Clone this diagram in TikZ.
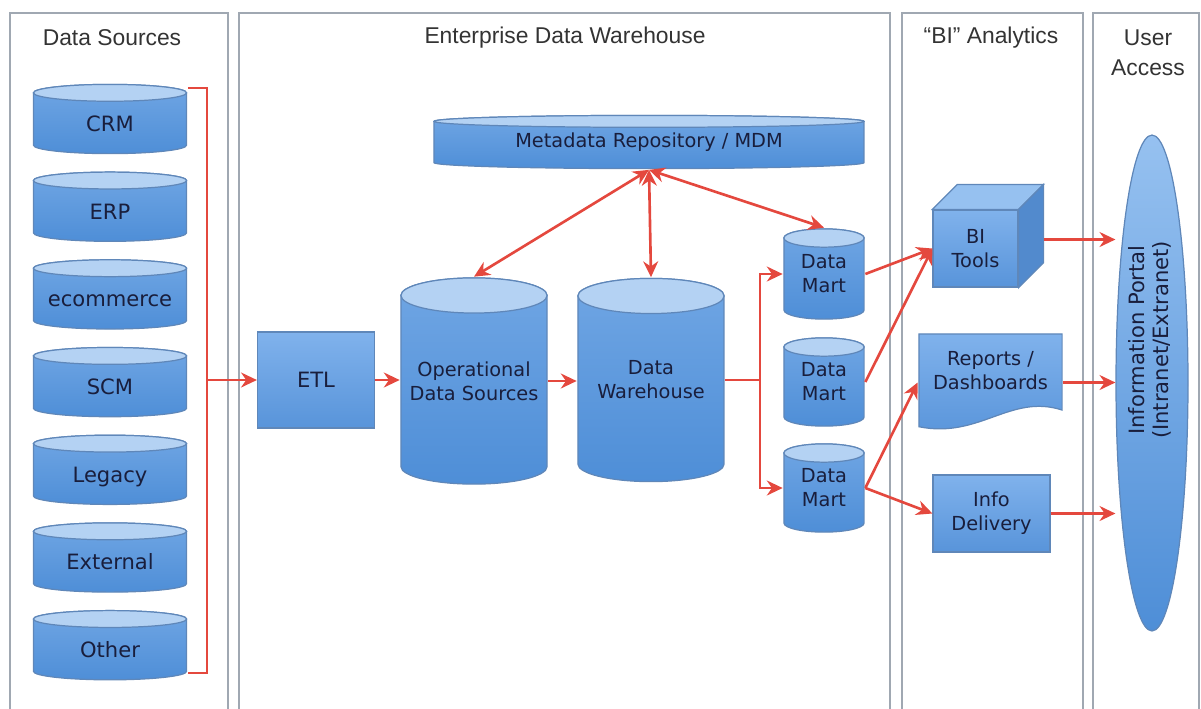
\documentclass[tikz,border=0pt]{standalone}
\usepackage{fontspec}
\setmainfont{DejaVu Sans}
\newfontfamily\headfont{Liberation Sans}
\usetikzlibrary{arrows.meta, shapes.geometric, calc}
\tikzset{>={Stealth[length=9pt,width=8.5pt]}}
\definecolor{dwred}{RGB}{228, 72, 62}
\definecolor{lanegray}{RGB}{160, 168, 178}
\definecolor{cyltop}{RGB}{180, 210, 243}
\definecolor{cylA}{RGB}{112, 166, 228}
\definecolor{cylB}{RGB}{150, 193, 240}
\definecolor{cylC}{RGB}{78, 142, 215}
\definecolor{cyledge}{RGB}{95, 135, 185}
\definecolor{boxA}{RGB}{128, 178, 236}
\definecolor{boxC}{RGB}{88, 148, 218}
\definecolor{cubetop}{RGB}{150, 193, 240}
\definecolor{cubeside}{RGB}{82, 138, 205}
\definecolor{dwtext}{RGB}{25, 30, 60}

\begin{document}
\begin{tikzpicture}[
    x = 0.02cm, y = -0.02cm,
    lane/.style = {draw = lanegray, line width = 1.2pt},
    lanehead/.style = {font = \headfont\fontsize{13}{17}\selectfont, text = black!80, align = center},
    flow/.style = {draw = dwred, line width = 1.5pt},
    cyl/.style = {inner sep = 0pt, align = center, text = dwtext,
        font = \fontsize{11}{13.6}\selectfont,
        path picture = {
            \shadedraw[top color = cylA, middle color = cylB, bottom color = cylC, draw = cyledge, line width = 0.7pt]
                let \p1 = (path picture bounding box.south west), \p2 = (path picture bounding box.north east) in
                ({\x1+0.5pt}, {\y2-#1-0.5pt}) -- ({\x1+0.5pt}, {\y1+#1+0.5pt})
                arc[start angle = 180, end angle = 360, x radius = {(\x2-\x1)/2-0.5pt}, y radius = #1]
                -- ({\x2-0.5pt}, {\y2-#1-0.5pt})
                arc[start angle = 0, end angle = 180, x radius = {(\x2-\x1)/2-0.5pt}, y radius = #1]
                -- cycle;
            \filldraw[fill = cyltop, draw = cyledge, line width = 0.7pt]
                let \p1 = (path picture bounding box.south west), \p2 = (path picture bounding box.north east) in
                ({(\x1+\x2)/2}, {\y2-#1-0.5pt}) ellipse [x radius = {(\x2-\x1)/2-0.5pt}, y radius = #1];
        }},
    cyl/.default = 5pt,
    box/.style = {draw = cyledge, line width = 0.7pt, top color = boxA, bottom color = boxC,
        inner sep = 0pt, align = center, text = dwtext, font = \fontsize{11}{13.6}\selectfont},
    docbox/.style = {inner sep = 0pt, align = center, text = dwtext, font = \fontsize{11}{13.6}\selectfont,
        path picture = {
            \shadedraw[top color = boxA, bottom color = boxC, draw = cyledge, line width = 0.7pt]
                let \p1 = (path picture bounding box.south west), \p2 = (path picture bounding box.north east) in
                ({\x1+0.5pt}, {\y2-0.5pt}) -- ({\x2-0.5pt}, {\y2-0.5pt}) -- ({\x2-0.5pt}, {\y1+12.5pt})
                .. controls ({\x2-30pt}, {\y1+22pt}) and ({\x1+35pt}, {\y1-4pt}) .. ({\x1+0.5pt}, {\y1+3pt})
                -- cycle;
        }},
    portal/.style = {ellipse, draw = cyledge, line width = 0.7pt, top color = cylB, bottom color = cylC,
        minimum width = 1.44cm, minimum height = 9.92cm, inner sep = 0pt},
    portaltext/.style = {rotate = 90, align = center, text = dwtext, font = \fontsize{12}{13.6}\selectfont},
]

\useasboundingbox (0, 0) rectangle (1201, 708);
\clip (0, 0) rectangle (1201, 708);

% lanes
\draw[lane] (10, 13) rectangle (228, 712);
\draw[lane] (239, 13) rectangle (890, 712);
\draw[lane] (902, 13) rectangle (1083, 712);
\draw[lane] (1093, 13) rectangle (1199, 712);

\node[lanehead] (src head) at (112, 38) {Data Sources};
\node[lanehead] (edw head) at (565, 38) {Enterprise Data Warehouse};
\node[lanehead] (bi head) at (991, 38) {“BI” Analytics};
\node[lanehead] (user head) at (1148, 53) {User\\Access};

% sources
\foreach \nm/\txt [count = \i from 0] in {crm/CRM, erp/ERP, ecom/ecommerce, scm/SCM, legacy/Legacy, ext/External, other/Other}
    \node[cyl = 4.8pt, minimum width = 3.1cm, minimum height = 1.42cm, text height = 14pt, text depth = 0pt,
        font = \fontsize{12}{14}\selectfont] (\nm) at (110, {119 + 87.7*\i}) {\txt};

\coordinate (bracket top) at (207, 88);
\coordinate (bracket bot) at (207, 673);
\draw[flow] (bracket top -| crm.east) -- (bracket top) -- (bracket bot) -- (bracket bot -| other.east);

% warehouse
\node[box, minimum width = 2.34cm, minimum height = 1.92cm, font = \fontsize{12}{14}\selectfont] (etl) at (316, 380) {ETL};
\node[cyl = 10pt, minimum width = 2.96cm, minimum height = 4.16cm] (ods) at (474, 381) {Operational\\Data Sources};
\node[cyl = 10pt, minimum width = 2.96cm, minimum height = 4.1cm] (dw) at (651, 380) {Data\\Warehouse};
\node[cyl = 3.4pt, minimum width = 8.64cm, minimum height = 1.1cm] (meta) at (649, 142) {Metadata Repository / MDM};
\node[cyl = 5.2pt, minimum width = 1.64cm, minimum height = 1.84cm] (dm1) at (824, 274) {Data\\Mart};
\node[cyl = 5.2pt, minimum width = 1.64cm, minimum height = 1.8cm] (dm2) at (824, 382) {Data\\Mart};
\node[cyl = 5.2pt, minimum width = 1.64cm, minimum height = 1.8cm] (dm3) at (824, 488) {Data\\Mart};

\draw[flow, ->] (bracket top |- etl) -- (etl);
\draw[flow, ->] (etl.east) -- (etl.east -| ods.west);
\draw[flow, ->] (ods.east) -- (ods.east -| dw.west);
\coordinate (split) at (760, 380);
\draw[flow] (dw.east) -- (split);
\draw[flow, ->] (split) |- (dm1);
\draw[flow, ->] (split) |- (dm3);
\draw[flow, <->] (meta.south) -- (ods.north);
\draw[flow, <->] (meta.south) -- (dw.north);
\draw[flow, <->] (meta.south) -- (dm1.north);

% analytics
\node[box, minimum width = 1.7cm, minimum height = 1.54cm] (bi) at (975.5, 248.5) {BI\\Tools};
\filldraw[fill = cubetop, draw = cyledge, line width = 0.7pt] (bi.north west) -- ++(25, -25) -- ([shift = {(25, -25)}] bi.north east) -- (bi.north east) -- cycle;
\filldraw[fill = cubeside, draw = cyledge, line width = 0.7pt] (bi.north east) -- ++(25, -25) -- ([shift = {(25, -25)}] bi.south east) -- (bi.south east) -- cycle;
\node[docbox, minimum width = 2.9cm, minimum height = 1.98cm, text depth = 14pt] (rep) at (990.5, 382.5) {Reports /\\Dashboards};
\node[box, minimum width = 2.34cm, minimum height = 1.54cm] (info) at (991.5, 513.5) {Info\\Delivery};

\draw[flow, ->] (dm1.east) -- (bi.west);
\draw[flow, ->] (dm2.east) -- (bi.west);
\draw[flow, ->] (dm3.east) -- (rep.west);
\draw[flow, ->] (dm3.east) -- (info.west);

% user access
\node[portal] (portal) at (1152, 383) {};
\node[portaltext] (portal text) at (1150, 340) {Information Portal\\(Intranet/Extranet)};

\coordinate (bi side) at ([shift = {(25, -9)}] bi.east);
\draw[flow, ->] (bi side) -- (bi side -| portal.west);
\draw[flow, ->] (rep.east) -- (rep.east -| portal.west);
\draw[flow, ->] (info.east) -- (info.east -| portal.west);

\end{tikzpicture}
\end{document}
